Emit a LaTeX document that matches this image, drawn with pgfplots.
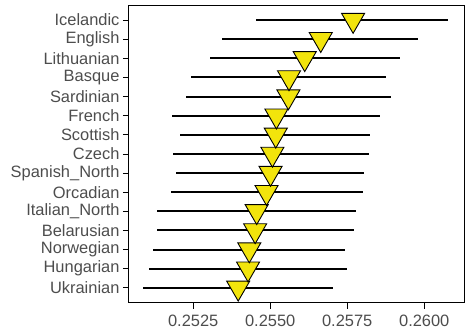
\documentclass[border=0pt]{standalone}
\usepackage{pgfplots}
\pgfplotsset{compat=1.18}
\usepackage{fontspec}
\setmainfont{Liberation Sans}
\definecolor{txt}{HTML}{4D4D4D}
\definecolor{myyellow}{HTML}{F2E40C}
\begin{document}
\begin{tikzpicture}[x=1bp,y=1bp]
\begin{axis}[
  scale only axis,
  width=335.3bp, height=297bp,
  xmin=0.250415, xmax=0.2613,
  ymin=-0.78, ymax=14.75,
  xtick={0.2525,0.2550,0.2575,0.2600},
  xticklabels={0.2525,0.2550,0.2575,0.2600},
  ytick={0,...,14},
  yticklabels={Ukrainian,Hungarian,Norwegian,Belarusian,Italian\_North,Orcadian,Spanish\_North,Czech,Scottish,French,Sardinian,Basque,Lithuanian,English,Icelandic},
  tick label style={font=\fontsize{16.5}{18}\selectfont, text=txt},
  xticklabel style={yshift=-3bp},
  tick align=outside,
  major tick length=6bp,
  tick style={black, line width=0.8bp},
  xtick pos=bottom, ytick pos=left,
  axis line style={black, line width=1bp},
  clip=false,
]
\addplot[draw=none, mark=none,
  error bars/.cd, x dir=both, x explicit, error bar style={draw=black,line width=2.0bp}, error mark=none]
  table[x=m, y=y, x error plus=ep, x error minus=em] {
y m ep em
0  0.25396 0.00308 0.00310
1  0.25428 0.00322 0.00323
2  0.25432 0.00312 0.00313
3  0.25451 0.00320 0.00318
4  0.25456 0.00324 0.00325
5  0.25488 0.00312 0.00311
6  0.25501 0.00303 0.00307
7  0.25507 0.00314 0.00324
8  0.25518 0.00307 0.00311
9  0.25520 0.00335 0.00339
10 0.25559 0.00332 0.00333
11 0.25561 0.00316 0.00319
12 0.25612 0.00308 0.00309
13 0.25664 0.00315 0.00320
14 0.25769 0.00308 0.00316
};
\addplot[only marks, mark=triangle*, mark size=13.3bp,
  mark options={rotate=180, fill=myyellow, draw=black, line width=0.9bp}]
  table[x=m, y=y] {
y m
0  0.25396
1  0.25428
2  0.25432
3  0.25451
4  0.25456
5  0.25488
6  0.25501
7  0.25507
8  0.25518
9  0.25520
10 0.25559
11 0.25561
12 0.25612
13 0.25664
14 0.25769
};
\end{axis}
\path[use as bounding box] (current axis.south west)++(-129bp,-33.3bp) rectangle ([shift={(3.7bp,5.7bp)}]current axis.north east);
\end{tikzpicture}
\end{document}
